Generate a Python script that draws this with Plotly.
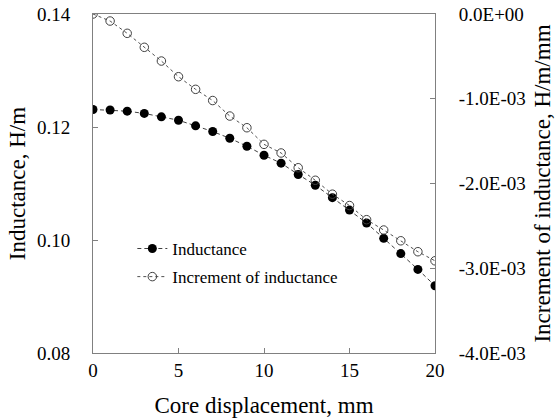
import plotly.graph_objects as go

displacement = list(range(0, 21))
inductance = [0.1231, 0.1230, 0.1228, 0.1224, 0.1218, 0.1212, 0.1202, 0.1192, 0.1180, 0.1166,
              0.1150, 0.1136, 0.1116, 0.1097, 0.1075, 0.1053, 0.1030, 0.1003, 0.0976, 0.0948, 0.0919]
increment = [0.0, -0.083e-3, -0.228e-3, -0.393e-3, -0.555e-3, -0.740e-3, -0.889e-3, -1.021e-3,
             -1.204e-3, -1.342e-3, -1.538e-3, -1.640e-3, -1.814e-3, -1.962e-3, -2.126e-3,
             -2.260e-3, -2.427e-3, -2.549e-3, -2.676e-3, -2.805e-3, -2.912e-3]

x_ticks = [0, 5, 10, 15, 20]
left_ticks = [0.08, 0.10, 0.12, 0.14]
left_labels = ["0.08", "0.10", "0.12", "0.14"]
right_ticks = [-4e-3, -3e-3, -2e-3, -1e-3, 0.0]
right_labels = ["-4.0E-03", "-3.0E-03", "-2.0E-03", "-1.0E-03", "0.0E+00"]

FONT = "Liberation Serif"
AX = "#808080"

fig = go.Figure()
fig.add_trace(go.Scatter(
    x=displacement, y=inductance, name="Inductance", mode="lines+markers",
    line=dict(color="#404040", width=1, dash="4px,3px"),
    marker=dict(symbol="circle", size=9, color="black", line=dict(width=0)),
    legendgroup="a"))
fig.add_trace(go.Scatter(
    x=displacement, y=increment, name="Increment of inductance", mode="lines+markers",
    yaxis="y2",
    line=dict(color="#505050", width=1, dash="3px,3px"),
    marker=dict(symbol="circle-open", size=8.5, color="#404040", line=dict(width=1)),
    legendgroup="b"))

axis_common = dict(showline=True, linecolor=AX, linewidth=1, ticks="inside", ticklen=5,
                   tickcolor=AX, showgrid=False, zeroline=False, automargin=False,
                   tickfont=dict(family=FONT, size=19, color="black"))

fig.update_layout(
    width=555, height=420,
    margin=dict(l=93, r=120, t=14, b=67),
    paper_bgcolor="white", plot_bgcolor="white",
    font=dict(family=FONT, color="black"),
    showlegend=True,
    legend=dict(x=0.115, y=0.36, xanchor="left", yanchor="top",
                font=dict(family=FONT, size=17, color="black"),
                bgcolor="rgba(0,0,0,0)", tracegroupgap=3),
    xaxis=dict(range=[0, 20], tickvals=x_ticks, mirror=True, ticklabelstandoff=0,
               title=dict(text="Core displacement, mm", font=dict(family=FONT, size=23), standoff=17),
               **axis_common),
    yaxis=dict(range=[0.08, 0.14], tickvals=left_ticks, ticktext=left_labels, ticklabelstandoff=18,
               title=dict(text="Inductance, H/m", font=dict(family=FONT, size=23), standoff=4),
               **axis_common),
    yaxis2=dict(range=[-4e-3, 0.0], tickvals=right_ticks, ticktext=right_labels, overlaying="y",
                side="right", ticklabelstandoff=19,
                title=dict(text="Increment of inductance, H/m/mm", font=dict(family=FONT, size=23), standoff=11),
                **axis_common),
)

fig.write_html("out.html")
